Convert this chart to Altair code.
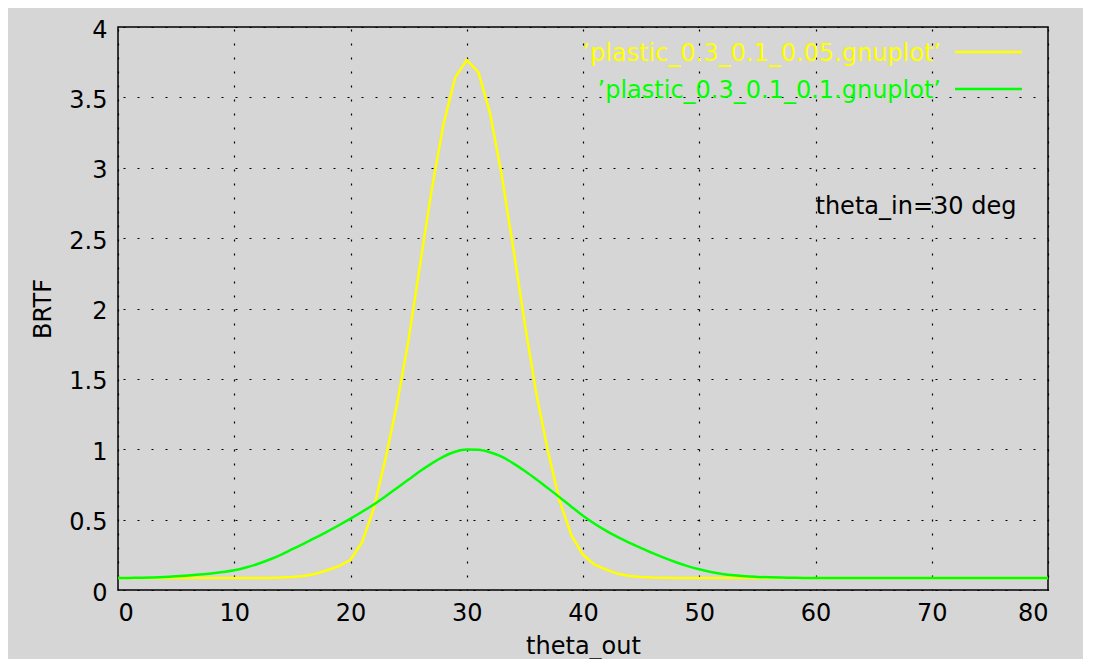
import altair as alt
import pandas as pd

# ---- data ----
theta_out = list(range(0, 81))

brtf_005 = ([0.085] * 13 +
            [0.086, 0.088, 0.092, 0.100, 0.115, 0.140, 0.170, 0.215, 0.34, 0.58,
             0.93, 1.32, 1.78, 2.32, 2.85, 3.31, 3.64, 3.765, 3.68, 3.39,
             2.95, 2.43, 1.89, 1.39, 0.98, 0.63, 0.39, 0.25, 0.18, 0.145,
             0.115, 0.100, 0.093, 0.089, 0.087, 0.086] +
            [0.085] * 32)

brtf_01 = ([0.085, 0.086, 0.087, 0.089, 0.092, 0.097, 0.103, 0.110, 0.118, 0.128,
            0.140, 0.160, 0.185, 0.215, 0.250, 0.290, 0.330, 0.372, 0.415, 0.460,
            0.507, 0.556, 0.608, 0.665, 0.725, 0.785, 0.845, 0.900, 0.948, 0.982,
            0.998, 0.997, 0.979, 0.947, 0.900, 0.845, 0.785, 0.722, 0.658, 0.592,
            0.528, 0.471, 0.420, 0.375, 0.335, 0.298, 0.262, 0.228, 0.197, 0.170,
            0.147, 0.128, 0.114, 0.104, 0.097, 0.093, 0.090, 0.088, 0.087, 0.086,
            0.0855] +
           [0.085] * 20)

series_labels = ["\u2019plastic_0.3_0.1_0.05.gnuplot\u2019",
                 "\u2019plastic_0.3_0.1_0.1.gnuplot\u2019"]
series_colors = ["#ffff00", "#00ff00"]

x_ticks = [0, 10, 20, 30, 40, 50, 60, 70, 80]
y_ticks = [0, 0.5, 1, 1.5, 2, 2.5, 3, 3.5, 4]

note_text = ["theta_in=30 deg"]
note_x = [60]
note_y = [2.75]

FONT = "DejaVu Sans"

df1 = pd.DataFrame({"theta_out": theta_out, "BRTF": brtf_005})
df2 = pd.DataFrame({"theta_out": theta_out, "BRTF": brtf_01})

x_enc = alt.X("theta_out:Q",
              scale=alt.Scale(domain=[0, 80], nice=False, zero=False),
              axis=alt.Axis(values=x_ticks, title="theta_out", grid=True,
                            labelPadding=11, gridDashOffset=12,
                            titleX=465, titleY=63, titleAlign="center",
                            titleBaseline="alphabetic"))
y_enc = alt.Y("BRTF:Q",
              scale=alt.Scale(domain=[0, 4], nice=False, zero=False),
              axis=alt.Axis(values=y_ticks, title="BRTF", grid=True,
                            labelExpr="'' + datum.value",
                            labelPadding=11, labelOffset=3, gridDashOffset=9,
                            titleAngle=270, titleX=-75, titleY=281.5,
                            titleAlign="center", titleBaseline="middle"))

line1 = alt.Chart(df1).mark_line(color=series_colors[0], strokeWidth=2.5).encode(x=x_enc, y=y_enc)
line2 = alt.Chart(df2).mark_line(color=series_colors[1], strokeWidth=2.5,
                                 interpolate="monotone").encode(x=x_enc, y=y_enc)

layers = [line1, line2]

# legend (gnuplot style: text right-aligned, sample line to the right)
for i, (lab, col) in enumerate(zip(series_labels, series_colors)):
    ldf = pd.DataFrame({"label": [lab]})
    layers.append(
        alt.Chart(ldf).mark_text(align="right", baseline="middle", font=FONT,
                                 fontSize=24, color=col).encode(
            x=alt.value(823), y=alt.value(27 + 37 * i), text="label:N")
    )
    layers.append(
        alt.Chart(ldf).mark_rule(color=col, strokeWidth=2.5).encode(
            x=alt.value(837), x2=alt.value(904), y=alt.value(25 + 37 * i))
    )

ndf = pd.DataFrame({"theta_out": note_x, "BRTF": note_y, "text": note_text})
note = alt.Chart(ndf).mark_text(align="left", baseline="middle", font=FONT,
                                fontSize=24, color="black", dy=4).encode(
    x=alt.X("theta_out:Q"), y=alt.Y("BRTF:Q"), text="text:N")
layers.append(note)

chart = alt.layer(*layers).properties(
    width=930, height=563,
    background="#d6d6d6",
    padding={"left": 110, "top": 19, "right": 35, "bottom": 69},
    autosize=alt.AutoSizeParams(type="none"),
).configure_view(
    stroke="black", strokeWidth=1.5
).configure_axis(
    labelFont=FONT, labelFontSize=24, labelColor="black",
    titleFont=FONT, titleFontSize=24, titleFontWeight="normal", titleColor="black",
    domain=False, ticks=False, tickSize=0,
    gridColor="black", gridOpacity=1, gridWidth=1.2, gridDash=[2, 12],
)

chart.save("out.html", embed_options={"renderer": "svg", "actions": False})
